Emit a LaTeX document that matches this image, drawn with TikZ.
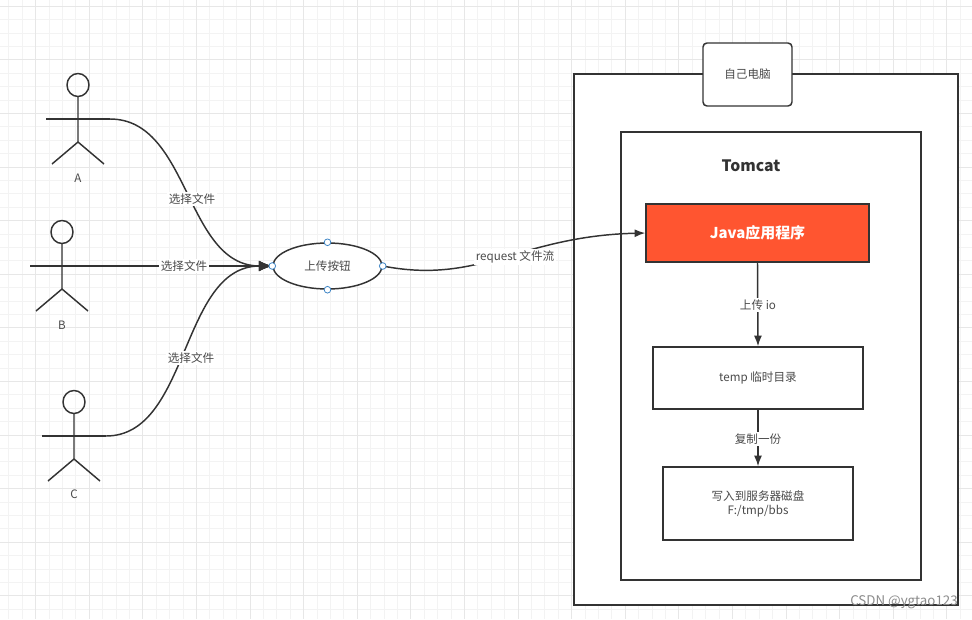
\documentclass[tikz,border=0pt]{standalone}
\usepackage{fontspec}
\setmainfont{Noto Sans CJK SC}
\usetikzlibrary{shapes.geometric,arrows.meta}
\definecolor{inkc}{HTML}{333333}
\definecolor{textc}{HTML}{4A4A4A}
\definecolor{gridc}{HTML}{F3F3F3}
\definecolor{majorc}{HTML}{E7E7E7}
\definecolor{javac}{HTML}{FF5530}
\definecolor{handlec}{HTML}{3D85C6}
\tikzset{
    ink/.style={draw=inkc, line width=1.1pt},
    box/.style={ink, fill=white, rectangle, inner sep=0pt, font=\fontsize{8.7}{10.5}\selectfont, text=textc},
    tag/.style={fill=white, inner sep=1.5pt, font=\fontsize{8.7}{10.5}\selectfont, text=textc},
    link/.style={ink, -{Latex[length=8pt,width=6pt]}},
    biglink/.style={ink, -{Latex[length=10pt,width=8pt]}},
    handle/.style={circle, draw=handlec, fill=white, line width=0.6pt, minimum size=5pt, inner sep=0pt},
    pics/actor/.style={code={
        \draw[ink] (0,-34) ellipse (11 and 11.5);
        \draw[ink] (0,-22.5) -- (0,23) -- (-26,45);
        \draw[ink] (0,23) -- (26,45);
        \draw[ink] (-32,0) -- (32,0);
    }}
}
\begin{document}
\begin{tikzpicture}[x=0.75pt,y=-0.75pt]
    \useasboundingbox (0,0) rectangle (972,619);
    % grid paper
    \foreach \i in {-18,...,54} {
        \draw[gridc, line width=0.5pt] ({250+13.4*\i},0) -- ({250+13.4*\i},619);
    }
    \foreach \i in {-12,...,34} {
        \draw[gridc, line width=0.5pt] (0,{167+13.4*\i}) -- (972,{167+13.4*\i});
    }
    \foreach \i in {-4,...,13} {
        \draw[majorc, line width=0.5pt] ({250+53.6*\i},0) -- ({250+53.6*\i},619);
    }
    \foreach \i in {-3,...,8} {
        \draw[majorc, line width=0.5pt] (0,{167+53.6*\i}) -- (972,{167+53.6*\i});
    }

    % actors
    \pic at (78,119) {actor};
    \pic at (62,266) {actor};
    \pic at (74,436) {actor};
    \node[tag, fill=none] (labelA) at (78,178) {A};
    \node[tag, fill=none] (labelB) at (62,325) {B};
    \node[tag, fill=none] (labelC) at (74,494) {C};
    \coordinate (armA) at (110,119);
    \coordinate (armB) at (94,266);
    \coordinate (armC) at (106,436);

    % boxes
    \node[box, minimum width=384*0.75pt, minimum height=531*0.75pt] (pc) at (766,339.5) {};
    \node[box, rounded corners=3pt, minimum width=89*0.75pt, minimum height=63*0.75pt] (pclabel) at (747.5,74.5) {自己电脑};
    \node[box, minimum width=300*0.75pt, minimum height=448*0.75pt] (tomcat) at (771,356) {};
    \node[font=\fontsize{11.8}{14}\selectfont\bfseries, text=inkc] (tomcatlabel) at (751,166) {Tomcat};
    \node[box, fill=javac, text=white, font=\fontsize{11.2}{13}\selectfont\bfseries, minimum width=223*0.75pt, minimum height=58*0.75pt] (java) at (757.5,233) {Java应用程序};
    \node[box, minimum width=210*0.75pt, minimum height=62*0.75pt] (temp) at (758,378) {temp 临时目录};
    \node[box, align=center, minimum width=190*0.75pt, minimum height=73*0.75pt] (disk) at (758,503.5) {写入到服务器磁盘\\F:/tmp/bbs};

    % upload button
    \node[ellipse, ink, fill=white, inner sep=0pt, minimum width=109*0.75pt, minimum height=46*0.75pt, font=\fontsize{8.7}{10.5}\selectfont, text=textc] (button) at (327.5,266) {上传按钮};

    % connectors
    \draw[biglink] (armA) .. controls (190,119) and (185,266) .. (button.west);
    \draw[biglink] (armB) -- (button.west);
    \draw[biglink] (armC) .. controls (190,436) and (180,266) .. (button.west);
    \draw[link] (button.east) .. controls (480,285) and (520,236) .. (java.west);
    \draw[link] (java.south) -- (temp.north);
    \draw[link] (temp.south) -- (disk.north);

    \node[tag] (fileA) at (192,199) {选择文件};
    \node[tag] (fileB) at (184,266) {选择文件};
    \node[tag] (fileC) at (191,358) {选择文件};
    \node[tag] (request) at (515,257) {request 文件流};
    \node[tag] (uploadio) at (758,305) {上传 io};
    \node[tag] (copy) at (758,439) {复制一份};

    \foreach \a in {north,south,east,west} {
        \node[handle] at (button.\a) {};
    }

    \node[text=black!45, font=\fontsize{10}{12}\selectfont] (mark) at (904,602) {CSDN @ygtao123};
\end{tikzpicture}
\end{document}
